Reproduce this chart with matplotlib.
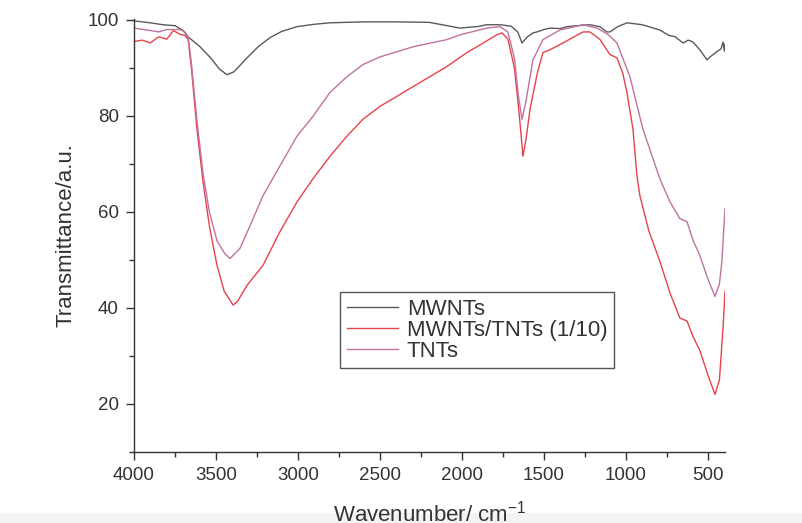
import numpy as np
import matplotlib.pyplot as plt
from matplotlib.ticker import MultipleLocator
from matplotlib.patches import Rectangle

plt.rcParams['font.family'] = ['Liberation Sans', 'DejaVu Sans']
plt.rcParams['mathtext.fontset'] = 'custom'
plt.rcParams['mathtext.rm'] = 'Liberation Sans'
plt.rcParams['mathtext.it'] = 'Liberation Sans:italic'

# Spectra (wavenumber, transmittance)
mwnt_x = [4000, 3900, 3823, 3750, 3700, 3671, 3600, 3530, 3480, 3433, 3390, 3311,
          3240, 3171, 3100, 3006, 2900, 2805, 2600, 2400, 2200, 2012, 1950, 1909,
          1850, 1768, 1700, 1660, 1634, 1600, 1567, 1543, 1500, 1463, 1400, 1360,
          1300, 1220, 1160, 1116, 1098, 1050, 994, 900, 793, 740, 700, 652, 620,
          591, 550, 506, 480, 445, 420, 408, 400, 396]
mwnt_y = [99.8, 99.4, 99.0, 98.8, 97.8, 96.5, 94.5, 92.0, 89.8, 88.6, 89.2, 92.1,
          94.5, 96.3, 97.6, 98.6, 99.1, 99.4, 99.6, 99.6, 99.5, 98.3, 98.5, 98.6,
          99.0, 99.0, 98.7, 97.5, 95.2, 96.5, 97.3, 97.5, 98.0, 98.3, 98.2, 98.6,
          98.8, 99.0, 98.6, 97.5, 97.5, 98.6, 99.4, 99.0, 97.9, 96.8, 96.5, 95.2,
          95.8, 95.4, 93.8, 91.7, 92.5, 93.4, 94.0, 95.4, 93.5, 95.0]

mix_x = [4000, 3950, 3900, 3850, 3800, 3760, 3720, 3690, 3670, 3650, 3616, 3579,
         3540, 3494, 3450, 3396, 3370, 3311, 3213, 3110, 3006, 2909, 2805, 2701,
         2604, 2500, 2396, 2299, 2195, 2092, 1970, 1890, 1787, 1756, 1720, 1680,
         1650, 1628, 1610, 1585, 1540, 1506, 1463, 1384, 1300, 1262, 1220, 1160,
         1098, 1055, 1020, 994, 957, 933, 915, 860, 793, 730, 671, 628, 590, 549,
         500, 457, 430, 408, 396]
mix_y = [95.5, 95.8, 95.2, 96.5, 96.0, 97.8, 97.0, 96.8, 96.0, 90.0, 77.2, 66.3,
         57.0, 48.9, 43.5, 40.6, 41.3, 44.7, 48.9, 55.9, 62.1, 66.9, 71.6, 75.8,
         79.3, 82.0, 84.1, 86.1, 88.2, 90.3, 93.2, 94.8, 96.9, 97.3, 96.0, 90.0,
         80.0, 71.6, 75.0, 81.4, 89.0, 93.2, 93.8, 95.2, 96.8, 97.5, 97.5, 96.0,
         92.8, 92.1, 89.0, 84.9, 77.2, 67.5, 63.4, 56.0, 49.7, 43.0, 37.9, 37.3,
         34.0, 31.1, 26.0, 22.0, 25.0, 35.8, 43.5]

tnt_x = [4000, 3900, 3850, 3800, 3720, 3690, 3670, 3650, 3616, 3579, 3540, 3494,
         3450, 3415, 3354, 3293, 3213, 3110, 3006, 2909, 2805, 2701, 2604, 2500,
         2299, 2092, 2012, 1848, 1768, 1720, 1680, 1655, 1634, 1610, 1567, 1506,
         1402, 1262, 1177, 1110, 1055, 976, 896, 854, 793, 730, 671, 628, 590,
         549, 500, 457, 430, 415, 396]
tnt_y = [98.3, 97.8, 97.5, 98.0, 98.0, 97.5, 96.5, 91.0, 79.0, 68.0, 60.0, 54.0,
         51.5, 50.3, 52.4, 57.1, 63.4, 69.6, 75.8, 79.9, 84.9, 88.2, 90.7, 92.3,
         94.4, 95.9, 96.9, 98.3, 98.6, 97.5, 92.0, 84.0, 79.3, 83.0, 91.7, 95.9,
         97.9, 99.0, 98.3, 97.0, 95.2, 88.2, 77.2, 73.0, 66.9, 62.0, 58.6, 58.0,
         54.0, 50.9, 46.0, 42.4, 45.0, 49.7, 60.7]

labels = ['MWNTs', 'MWNTs/TNTs (1/10)', 'TNTs']
colors = ['#5a5a5a', '#e8424c', '#c072a0']

fig = plt.figure(figsize=(8.03, 5.23), dpi=100)
ax = fig.add_axes([134 / 803, 1 - 452 / 523, 591 / 803, 433.5 / 523])

ax.plot(mwnt_x, mwnt_y, color=colors[0], lw=1.0, label=labels[0])
ax.plot(mix_x, mix_y, color=colors[1], lw=1.0, label=labels[1])
ax.plot(tnt_x, tnt_y, color=colors[2], lw=1.0, label=labels[2])

ax.set_xlim(4000, 396)
ax.set_ylim(10, 100.3)
ax.xaxis.set_major_locator(MultipleLocator(500))
ax.xaxis.set_minor_locator(MultipleLocator(250))
ax.yaxis.set_minor_locator(MultipleLocator(10))
ax.set_yticks([20, 40, 60, 80, 100])

for s in ['top', 'right']:
    ax.spines[s].set_visible(False)
for s in ['left', 'bottom']:
    ax.spines[s].set_color('#333333')
    ax.spines[s].set_linewidth(1.0)

ax.tick_params(which='major', direction='out', length=6, width=1.0,
               colors='#333333', labelsize=13.5, pad=5)
ax.tick_params(which='minor', direction='out', length=3.5, width=1.0, colors='#333333')

ax.set_ylabel('Transmittance/a.u.', fontsize=16, color='#333333')
ax.yaxis.set_label_coords(-0.097, 0.5)
ax.set_xlabel('Wavenumber/ cm$^{-1}$', fontsize=16, color='#333333', va='top')
ax.xaxis.set_label_coords(0.5, -0.111)

leg = ax.legend(loc='upper left', bbox_to_anchor=(340 / 803, 1 - 292 / 523),
                bbox_transform=fig.transFigure, fontsize=16, frameon=True,
                fancybox=False, edgecolor='#555555', framealpha=1,
                handlelength=2.3, handletextpad=0.4, labelspacing=0.0,
                borderpad=0.3, borderaxespad=0)
leg.get_frame().set_linewidth(1.0)
for t in leg.get_texts():
    t.set_color('#333333')

fig.patches.append(Rectangle((0, 0), 1, 10 / 523, transform=fig.transFigure,
                             color='#f3f3f3', zorder=-1))

fig.savefig('out.png', dpi=100)
